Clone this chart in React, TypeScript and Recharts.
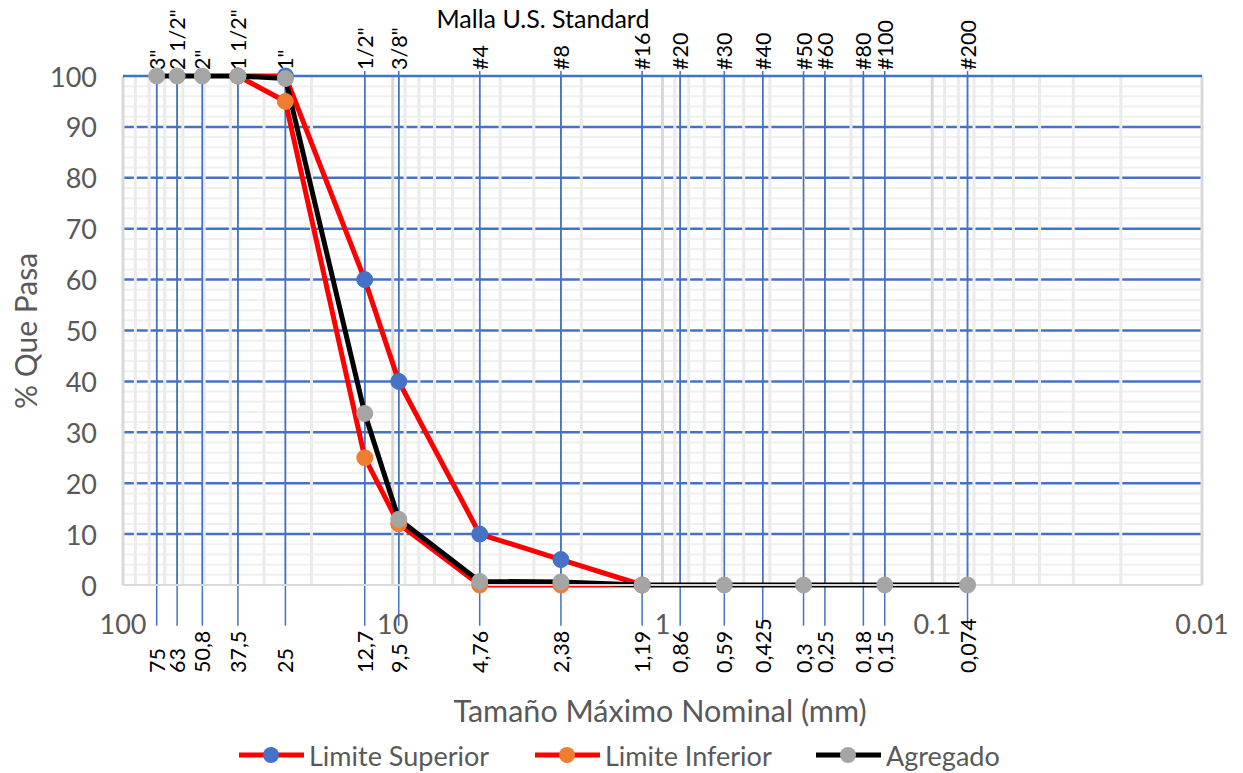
import React from "react";
import { LineChart, Line, XAxis, YAxis, ReferenceLine, ReferenceDot } from "recharts";

// sieve openings (mm) and their U.S. Standard names
const SIEVE_MM = [75, 63, 50.8, 37.5, 25, 12.7, 9.5, 4.76, 2.38, 1.19, 0.86, 0.59, 0.425, 0.3, 0.25, 0.18, 0.15, 0.074];
const SIEVE_NAMES = ['3"', '2 1/2"', '2"', '1 1/2"', '1"', '1/2"', '3/8"', "#4", "#8", "#16", "#20", "#30", "#40", "#50", "#60", "#80", "#100", "#200"];
const SIEVE_TEXT = ["75", "63", "50,8", "37,5", "25", "12,7", "9,5", "4,76", "2,38", "1,19", "0,86", "0,59", "0,425", "0,3", "0,25", "0,18", "0,15", "0,074"];

const SUPERIOR_MM = [37.5, 25, 12.7, 9.5, 4.76, 2.38, 1.19];
const SUPERIOR_PCT = [100, 100, 60, 40, 10, 5, 0];
const INFERIOR_MM = [37.5, 25, 12.7, 9.5, 4.76, 2.38, 1.19];
const INFERIOR_PCT = [100, 95, 25, 12, 0, 0, 0];
const AGREGADO_MM = [75, 63, 50.8, 37.5, 25, 12.7, 9.5, 4.76, 2.38, 1.19, 0.59, 0.3, 0.15, 0.074];
const AGREGADO_PCT = [100, 100, 100, 100, 99.5, 33.7, 12.9, 0.7, 0.6, 0, 0, 0, 0, 0];

const X_TICKS = [100, 10, 1, 0.1, 0.01];
const Y_TICKS = [0, 10, 20, 30, 40, 50, 60, 70, 80, 90, 100];

const FONT = "Lato, 'Open Sans', sans-serif";
const GREY_TEXT = "#595959";
const BLUE = "#4472C4";

const toPoints = (xs: number[], ys: number[]) => xs.map((x, i) => ({ x, y: ys[i] }));
const superior = toPoints(SUPERIOR_MM, SUPERIOR_PCT);
const inferior = toPoints(INFERIOR_MM, INFERIOR_PCT);
const agregado = toPoints(AGREGADO_MM, AGREGADO_PCT);

// log grid: 2..9 inside each decade
const minorX = [0.01, 0.1, 1, 10].flatMap((d) => [2, 3, 4, 5, 6, 7, 8, 9].map((k) => +(k * d).toPrecision(3)));
const minorY = Array.from({ length: 50 }, (_, i) => i * 2).filter((v) => v % 10 !== 0);
const majorY = Y_TICKS.filter((v) => v > 0 && v < 100);

// grid rules drawn as plain two-point lines, so their paint order follows the JSX order
const hRule = (v: number) => [{ x: 100, y: v }, { x: 0.01, y: v }];
const vRule = (v: number) => [{ x: v, y: 0 }, { x: v, y: 100 }];
const rule = (key: string, data: { x: number; y: number }[], stroke: string, width: number) => (
  <Line
    key={key}
    data={data}
    dataKey="y"
    stroke={stroke}
    strokeWidth={width}
    dot={false}
    activeDot={false}
    legendType="none"
    isAnimationActive={false}
  />
);

const XTick = ({ x, y, payload }: any) => (
  <text x={x} y={y + 38} textAnchor="middle" dominantBaseline="central" fill={GREY_TEXT} fontSize={27} fontFamily={FONT}>
    {String(payload.value)}
  </text>
);

const YTick = ({ x, y, payload }: any) => (
  <text x={x - 26} y={y} textAnchor="end" dominantBaseline="central" fill={GREY_TEXT} fontSize={27} fontFamily={FONT}>
    {payload.value}
  </text>
);

const vText = (label: string, dy: number) => (p: any) => (
  <text
    transform={`translate(${p.cx},${p.cy + dy}) rotate(-90)`}
    textAnchor="start"
    dominantBaseline="central"
    fill="#000"
    fontSize={21.5}
    fontFamily={FONT}
  >
    {label}
  </text>
);

const LegendItem = ({ x, line, dot, label }: { x: number; line: string; dot: string; label: string }) => (
  <g>
    <line x1={x} x2={x + 65} y1={755} y2={755} stroke={line} strokeWidth={5} />
    <circle cx={x + 32} cy={755} r={8} fill={dot} />
    <text x={x + 70} y={755} dominantBaseline="central" fill={GREY_TEXT} fontSize={27} fontFamily={FONT}>
      {label}
    </text>
  </g>
);

export default function App() {
  return (
    <div style={{ position: "absolute", left: 0, top: 0, width: 1243, height: 773, background: "#fff" }}>
      <LineChart width={1243} height={773} margin={{ top: 76, right: 41, left: 0, bottom: 148 }}>
        <XAxis
          dataKey="x"
          type="number"
          scale="log"
          domain={[0.01, 100]}
          reversed
          ticks={X_TICKS}
          height={40}
          tickSize={0}
          tickMargin={0}
          tick={<XTick />}
          axisLine={{ stroke: "#D9D9D9", strokeWidth: 2 }}
        />
        <YAxis
          type="number"
          domain={[0, 100]}
          ticks={Y_TICKS}
          width={123}
          tickSize={0}
          tickMargin={0}
          tick={<YTick />}
          axisLine={false}
        />

        {minorY.map((v) => (
          <ReferenceLine key={`my${v}`} y={v} stroke="#F0F0F0" strokeWidth={2} />
        ))}

        {/* sieve markers with names above and openings below */}
        {SIEVE_MM.map((mm) => (
          <ReferenceLine
            key={`s${mm}`}
            segment={[{ x: mm, y: 101 }, { x: mm, y: -8 }]}
            ifOverflow="visible"
            stroke={BLUE}
            strokeWidth={1.5}
          />
        ))}
        {SIEVE_MM.map((mm, i) => (
          <ReferenceDot key={`n${mm}`} x={mm} y={100} ifOverflow="visible" shape={vText(SIEVE_NAMES[i], -6)} />
        ))}
        {SIEVE_MM.map((mm, i) => (
          <ReferenceDot key={`t${mm}`} x={mm} y={0} ifOverflow="visible" shape={vText(SIEVE_TEXT[i], 88)} />
        ))}

        {majorY.map((v) => rule(`hy${v}`, hRule(v), BLUE, 2.5))}
        {minorX.map((v) => rule(`vx${v}`, vRule(v), "#EBEBEB", 3))}
        {X_TICKS.map((v) => rule(`VX${v}`, vRule(v), "#D9D9D9", 3))}
        {rule("top", hRule(100), BLUE, 2.5)}
        {SIEVE_MM.map((mm) => rule(`sv${mm}`, vRule(mm), BLUE, 1.5))}

        <Line
          data={superior}
          dataKey="y"
          name="Limite Superior"
          stroke="#FF0000"
          strokeWidth={5}
          dot={{ r: 8, fill: BLUE, stroke: BLUE, strokeWidth: 1 }}
          isAnimationActive={false}
        />
        <Line
          data={inferior}
          dataKey="y"
          name="Limite Inferior"
          stroke="#FF0000"
          strokeWidth={5}
          dot={{ r: 8, fill: "#ED7D31", stroke: "#ED7D31", strokeWidth: 1 }}
          isAnimationActive={false}
        />
        <Line
          data={agregado}
          dataKey="y"
          name="Agregado"
          stroke="#000000"
          strokeWidth={5}
          dot={{ r: 8, fill: "#A5A5A5", stroke: "#A5A5A5", strokeWidth: 1 }}
          isAnimationActive={false}
        />
      </LineChart>

      <svg width={1243} height={773} style={{ position: "absolute", left: 0, top: 0, pointerEvents: "none" }}>
        <text x={543} y={18} textAnchor="middle" dominantBaseline="central" fill="#000" fontSize={25} fontFamily={FONT}>
          Malla U.S. Standard
        </text>
        <text
          transform="translate(25,331) rotate(-90)"
          textAnchor="middle"
          dominantBaseline="central"
          fill={GREY_TEXT}
          fontSize={30}
          fontFamily={FONT}
        >
          % Que Pasa
        </text>
        <text x={660} y={710} textAnchor="middle" dominantBaseline="central" fill={GREY_TEXT} fontSize={30.5} fontFamily={FONT}>
          Tamaño Máximo Nominal (mm)
        </text>
        <LegendItem x={239} line="#FF0000" dot={BLUE} label="Limite Superior" />
        <LegendItem x={535} line="#FF0000" dot="#ED7D31" label="Limite Inferior" />
        <LegendItem x={816} line="#000000" dot="#A5A5A5" label="Agregado" />
      </svg>
    </div>
  );
}
